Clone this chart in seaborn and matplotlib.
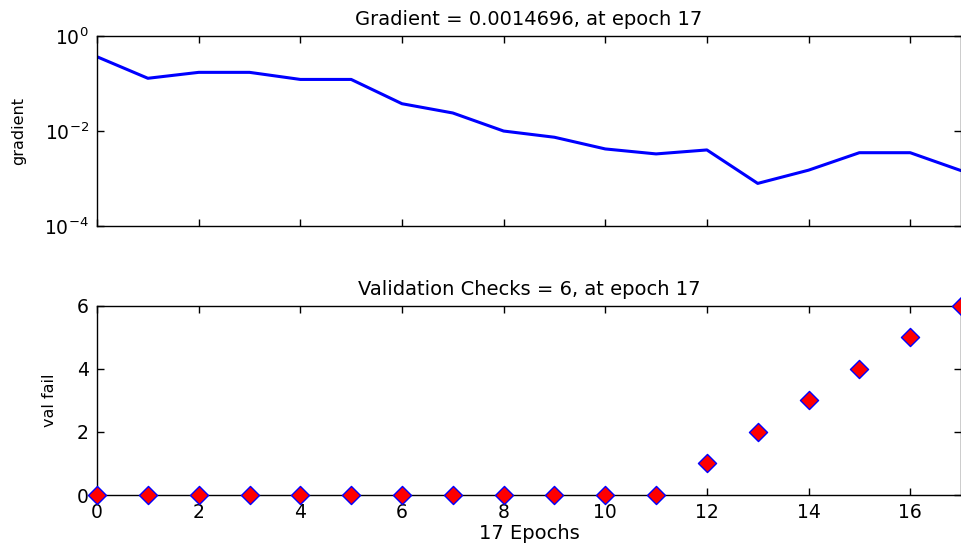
import numpy as np
import pandas as pd
import matplotlib
matplotlib.use("Agg")
import matplotlib.pyplot as plt
import seaborn as sns

# Training record: gradient magnitude and validation failures per epoch
epochs = list(range(18))
gradient = [0.366, 0.129, 0.172, 0.172, 0.122, 0.122, 0.0376, 0.024, 0.0100,
            0.0074, 0.0042, 0.0033, 0.0040, 0.00079, 0.0015, 0.0035, 0.0035,
            0.0014696]
val_fail = [0, 0, 0, 0, 0, 0, 0, 0, 0, 0, 0, 0, 1, 2, 3, 4, 5, 6]

x_ticks = [0, 2, 4, 6, 8, 10, 12, 14, 16]
grad_ticks = [1e-4, 1e-2, 1e0]
grad_tick_labels = [r"$10^{-4}$", r"$10^{-2}$", r"$10^{0}$"]
val_ticks = [0, 2, 4, 6]

df = pd.DataFrame({"epoch": epochs, "gradient": gradient, "val_fail": val_fail})

sns.set_style("ticks")
plt.rcParams["font.family"] = ["DejaVu Sans"]
plt.rcParams["mathtext.fontset"] = "dejavusans"
plt.rcParams["text.color"] = "black"
plt.rcParams["axes.labelcolor"] = "black"
plt.rcParams["axes.titlecolor"] = "black"

fig = plt.figure(figsize=(9.61, 5.46), dpi=100)
ax1 = fig.add_axes([0.101, 0.586, 0.899, 0.348])
ax2 = fig.add_axes([0.101, 0.0934, 0.899, 0.3462])


def matlab_axes(ax):
    for s in ax.spines.values():
        s.set_visible(True)
        s.set_color("black")
        s.set_linewidth(1.0)
    ax.tick_params(axis="both", which="major", direction="in", length=5,
                   width=1, top=True, right=True, labelsize=13.5,
                   colors="black", labelcolor="black", pad=6)
    ax.tick_params(axis="both", which="minor", length=0)


# Gradient panel
sns.lineplot(data=df, x="epoch", y="gradient", ax=ax1, color="#0000FF",
             linewidth=2.2)
ax1.set_yscale("log")
ax1.set_xlim(0, 17)
ax1.set_ylim(1e-4, 1e0)
ax1.set_xticks(x_ticks)
ax1.set_xticklabels([])
ax1.set_yticks(grad_ticks)
ax1.set_yticklabels(grad_tick_labels)
ax1.yaxis.set_minor_locator(matplotlib.ticker.NullLocator())
ax1.set_xlabel("")
ax1.set_ylabel("gradient", fontsize=11.5, labelpad=13)
ax1.set_title(f"Gradient = {gradient[-1]}, at epoch {epochs[-1]}",
              fontsize=14, pad=8)
matlab_axes(ax1)

# Validation checks panel
sns.scatterplot(data=df, x="epoch", y="val_fail", ax=ax2, marker="D",
                color="#FF0000", edgecolor="#0000FF", linewidth=1.0, s=85,
                clip_on=False, zorder=5)
ax2.set_xlim(0, 17)
ax2.set_ylim(0, 6)
ax2.set_xticks(x_ticks)
ax2.set_yticks(val_ticks)
ax2.set_xlabel(f"{epochs[-1]} Epochs", fontsize=14, labelpad=1)
ax2.set_ylabel("val fail", fontsize=11.5, labelpad=14)
ax2.set_title(f"Validation Checks = {val_fail[-1]}, at epoch {epochs[-1]}",
              fontsize=14, pad=8)
matlab_axes(ax2)

fig.savefig("out.png", dpi=100, facecolor="white")
